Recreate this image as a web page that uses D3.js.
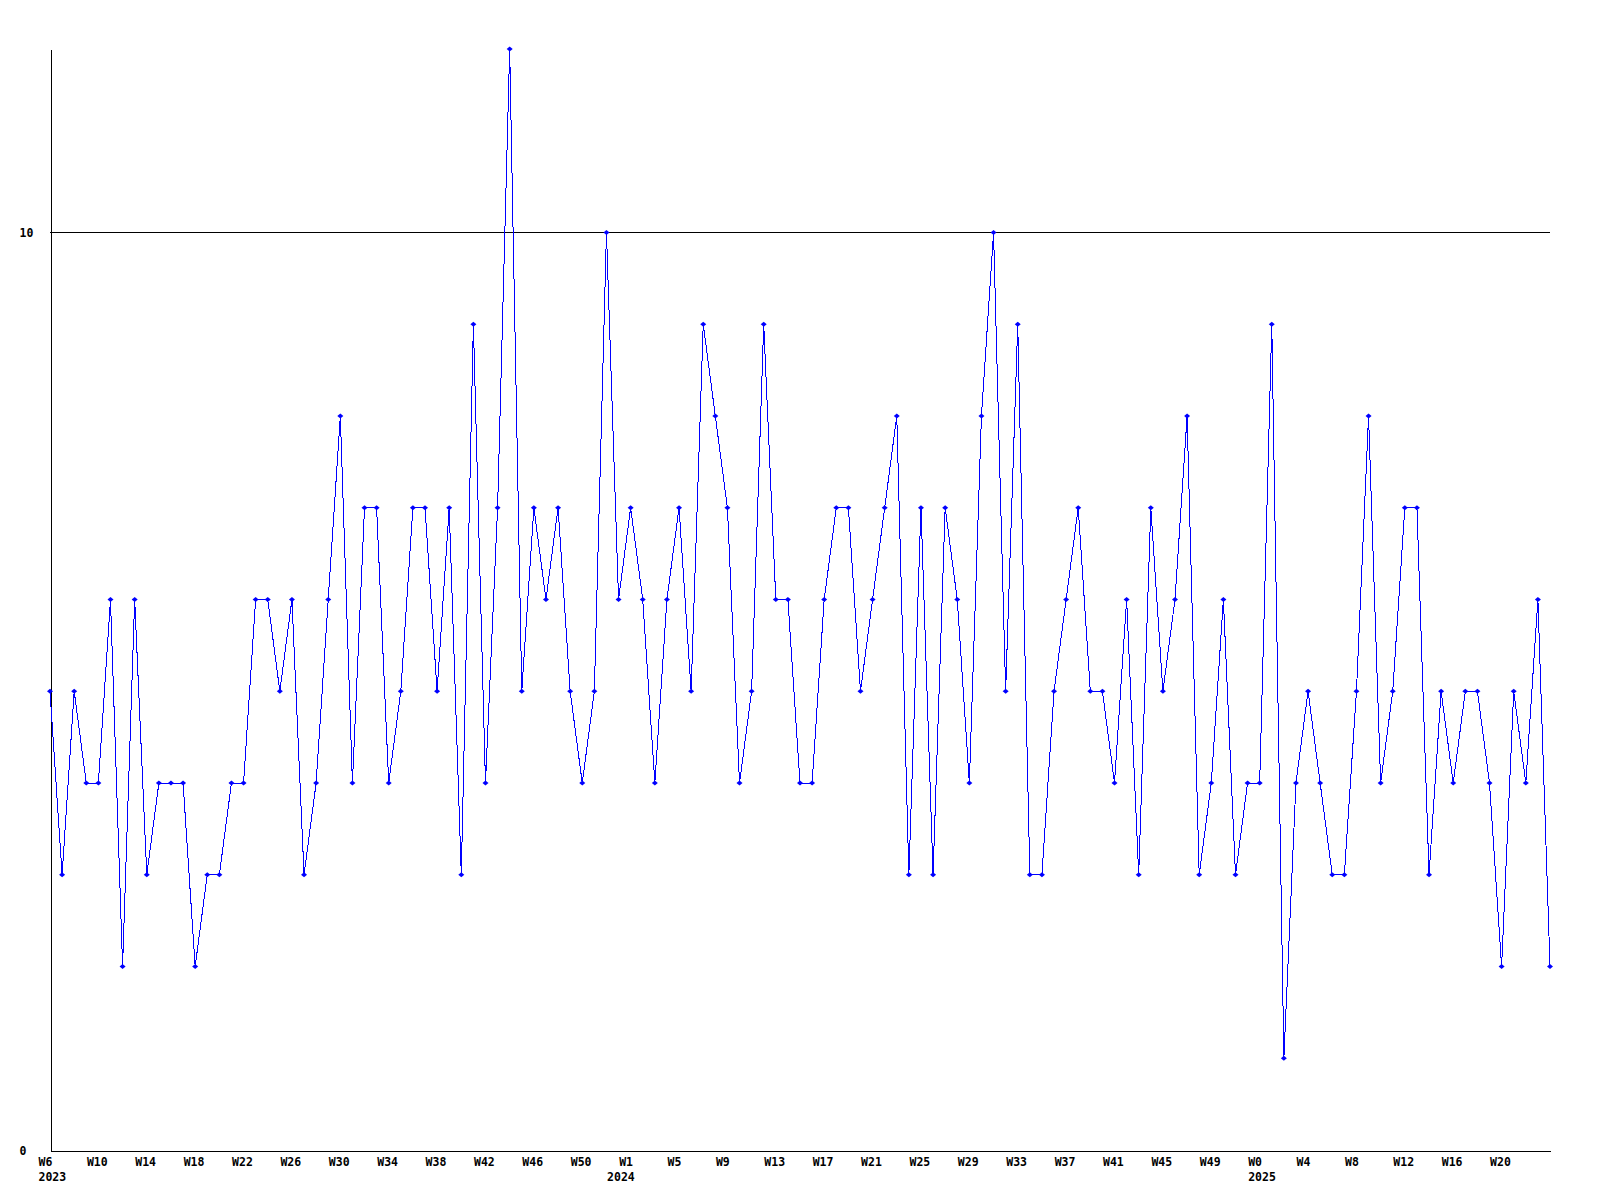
<!DOCTYPE html>
<html>
<head>
<meta charset="utf-8">
<script src="https://cdn.jsdelivr.net/npm/d3@7/dist/d3.min.js"></script>
<style>
  html, body { margin: 0; padding: 0; background: #ffffff; }
  svg { display: block; }
  text { font-family: "DejaVu Sans Mono", "Liberation Mono", monospace; font-weight: bold; font-size: 11.5px; fill: #000; }
</style>
</head>
<body>
<svg id="chart" width="1600" height="1200"></svg>
<script>
// ---- data ----
const values = [
  5,3,5,4,4,6,2,6,3,4,
  4,4,2,3,3,4,4,6,6,5,
  6,3,4,6,8,4,7,7,4,5,
  7,7,5,7,3,9,4,7,12,5,
  7,6,7,5,4,5,10,6,7,6,
  4,6,7,5,9,8,7,4,5,9,
  6,6,4,4,6,7,7,5,6,7,
  8,3,7,3,7,6,4,8,10,5,
  9,3,3,5,6,7,5,5,4,6,
  3,7,5,6,8,3,4,6,3,4,
  4,9,1,4,5,4,3,3,5,8,
  4,5,7,7,3,5,4,5,5,4,
  2,5,4,6,2
];
const weekLabels = [
  "W6","W10","W14","W18","W22","W26","W30","W34","W38","W42","W46","W50",
  "W1","W5","W9","W13","W17","W21","W25","W29","W33","W37","W41","W45","W49",
  "W0","W4","W8","W12","W16","W20"
];
const weekTickStep = 4;
const yearLabels = ["2023","2024","2025"];
const yearPositions = [0, 47.0, 100];
const yTicks = [0, 10];
const refLine = [10];

(function () {
  const svg = d3.select("#chart");
  const mLeft = 50, mRight = 1550, mTop = 49, mBottom = 1150;

  const x = d3.scaleLinear().domain([0, values.length - 1]).range([mLeft, mRight]);
  const y = d3.scaleLinear().domain([0, 12]).range([mBottom, mTop]);

  // reference line at 10
  svg.append("g").selectAll("line").data(refLine).join("line")
    .attr("x1", mLeft).attr("x2", mRight)
    .attr("y1", d => Math.round(y(d)) + 0.5).attr("y2", d => Math.round(y(d)) + 0.5)
    .attr("stroke", "#000").attr("stroke-width", 1).attr("shape-rendering", "crispEdges");

  // x axis (week labels)
  const weekTickVals = weekLabels.map((d, i) => i * weekTickStep);
  const xAxis = d3.axisBottom(x)
    .tickValues(weekTickVals)
    .tickFormat((d, i) => weekLabels[i])
    .tickSize(0).tickSizeOuter(0);
  const gx = svg.append("g").attr("transform", `translate(0,${mBottom + 0.5})`).call(xAxis);
  gx.select(".domain").attr("stroke", "#000").attr("shape-rendering", "crispEdges");
  gx.attr("font-family", null).attr("font-size", null);
  gx.selectAll("text")
    .attr("text-anchor", "start").attr("x", -12).attr("y", 11.5).attr("dy", "0.35em");

  // year labels
  const yearAxis = d3.axisBottom(x)
    .tickValues(yearPositions)
    .tickFormat((d, i) => yearLabels[i])
    .tickSize(0).tickSizeOuter(0);
  const gyear = svg.append("g").attr("transform", `translate(0,${mBottom})`).call(yearAxis);
  gyear.select(".domain").remove();
  gyear.attr("font-family", null).attr("font-size", null);
  gyear.selectAll("text")
    .attr("text-anchor", "start").attr("x", -12).attr("y", 27).attr("dy", "0.35em");

  // y axis
  const yAxis = d3.axisLeft(y).tickValues(yTicks).tickFormat(d3.format("d")).tickSize(0).tickSizeOuter(0);
  const gy = svg.append("g").attr("transform", `translate(${mLeft + 0.5},0)`).call(yAxis);
  gy.select(".domain").attr("stroke", "#000").attr("shape-rendering", "crispEdges");
  gy.attr("font-family", null).attr("font-size", null);
  gy.selectAll("text")
    .attr("text-anchor", "start").attr("x", 19 - mLeft).attr("dy", "0.35em");
  svg.selectAll(".tick line").remove();

  // series line
  const line = d3.line().x((d, i) => x(i)).y(d => y(d));
  svg.append("path").datum(values)
    .attr("d", line)
    .attr("fill", "none").attr("stroke", "#0000ff").attr("stroke-width", 1)
    .attr("shape-rendering", "crispEdges");

  // markers
  svg.append("g").selectAll("path").data(values).join("path")
    .attr("transform", (d, i) => `translate(${x(i)},${y(d)})`)
    .attr("d", "M-3,0L0,-2.5L3,0L0,2.5Z")
    .attr("fill", "#0000ff").attr("stroke", "none");
})();
</script>
</body>
</html>
